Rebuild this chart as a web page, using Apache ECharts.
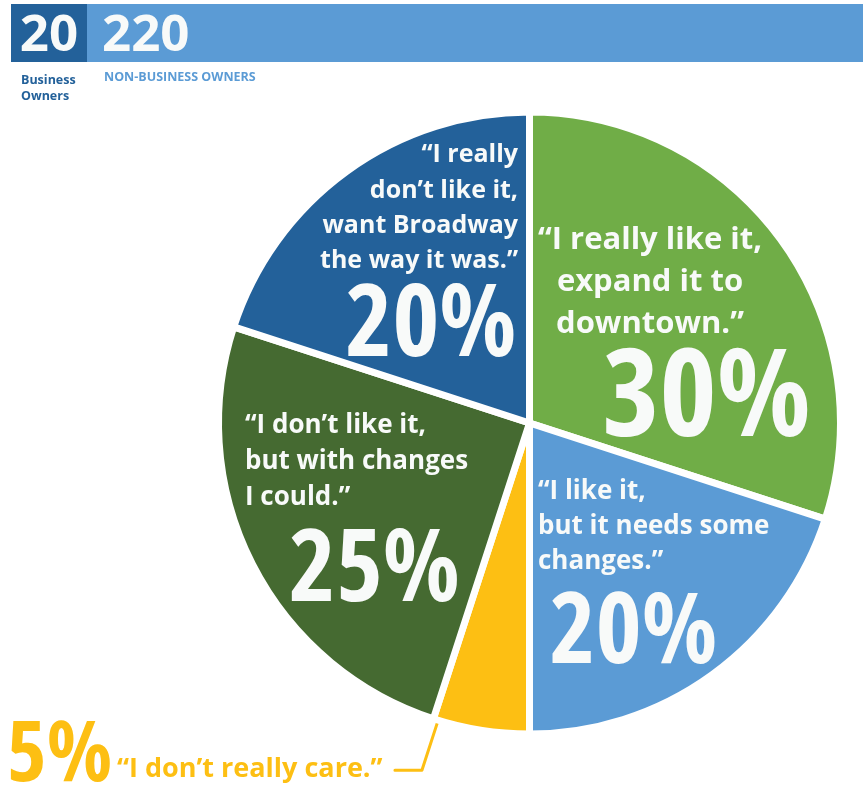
<!DOCTYPE html>
<html>
<head>
<meta charset="utf-8">
<script src="https://cdn.jsdelivr.net/npm/echarts@6/dist/echarts.min.js"></script>
<style>
  html, body { margin: 0; padding: 0; background: #ffffff; }
  #main { width: 863px; height: 787px; }
</style>
</head>
<body>
<div id="main"></div>
<script>
// Survey answers, clockwise from 12 o'clock
const answers = [
  '“I really like it,\nexpand it to\ndowntown.”',
  '“I like it,\nbut it needs some\nchanges.”',
  '“I don’t really care.”',
  '“I don’t like it,\nbut with changes\nI could.”',
  '“I really\ndon’t like it,\nwant Broadway\nthe way it was.”'
];
const shares = [30, 20, 5, 25, 20];
const sliceColors = ['#70AD47', '#5B9BD5', '#FDBF13', '#456A31', '#23619A'];

// Respondent counts shown in the header strip
const respondentCounts = [20, 220];
const respondentGroups = ['Business\nOwners', 'NON-BUSINESS OWNERS'];

// ---- geometry & styling ----
const CX = 529.5, CY = 423, R = 311, BORDER = 7;
const WHITE = '#F8FAF9';
const QUOTE_FONT = "'Open Sans', 'Noto Sans', sans-serif";
const BIG_FONT = "'Open Sans', 'Noto Sans', sans-serif";
const careIndex = 2; // the slice whose label sits outside the pie

// quote text blocks: anchor offset from the pie centre (top of first line)
const quoteLayout = [
  { dx: 120.5, dy: -204.3, align: 'center', size: 31, lh: 42 },
  { dx: 8.5, dy: 51.4, align: 'left', size: 26, lh: 35 },
  { dx: -412.5, dy: 331, align: 'left', size: 27, lh: 30 },
  { dx: -284.5, dy: -15, align: 'left', size: 26, lh: 36 },
  { dx: -11.5, dy: -285.4, align: 'right', size: 25, lh: 35.3 }
];
// percentage figures: centre of the figure, offset from the pie centre
const figureLayout = [
  { dx: 177, dy: -22, size: 122 },
  { dx: 104, dy: 212, size: 98 },
  { dx: -470, dy: 334, size: 85 },
  { dx: -155, dy: 150, size: 100 },
  { dx: -98.5, dy: -95, size: 100 }
];

// leader from the outer corner of the small slice, running along its edge
function leaderPoints() {
  const total = shares.reduce((a, b) => a + b, 0);
  let before = 0;
  for (let i = 0; i <= careIndex; i++) before += shares[i];
  const theta = before / total * Math.PI * 2; // clockwise from 12 o'clock
  const ux = Math.sin(theta), uy = -Math.cos(theta);
  const px = -Math.cos(theta), py = -Math.sin(theta); // towards the slice
  const inset = 5;
  const visibleR = R - BORDER / 2;
  const a = [CX + ux * (visibleR - 3) + px * inset, CY + uy * (visibleR - 3) + py * inset];
  const b = [CX + ux * (visibleR + 56) + px * inset, CY + uy * (visibleR + 56) + py * inset];
  const c = [b[0] - 27, b[1]];
  return [a, b, c];
}

const quoteData = answers.map((name, i) => ({
  name: name,
  value: shares[i],
  itemStyle: { color: sliceColors[i] },
  label: {
    position: i === careIndex ? 'outside' : 'inside',
    color: i === careIndex ? sliceColors[i] : WHITE,
    fontSize: quoteLayout[i].size,
    lineHeight: quoteLayout[i].lh
  },
  labelLine: {
    show: i === careIndex,
    lineStyle: { color: sliceColors[i], width: 3, cap: 'round', join: 'round' }
  }
}));

const figureData = answers.map((name, i) => ({
  name: name,
  value: shares[i],
  label: {
    color: i === careIndex ? sliceColors[i] : WHITE,
    fontSize: figureLayout[i].size
  }
}));

const chart = echarts.init(document.getElementById('main'), null, { renderer: 'canvas' });

const headerGraphics = [
  { type: 'rect', shape: { x: 11, y: 4, width: 76, height: 58 }, style: { fill: '#23619A' } },
  { type: 'rect', shape: { x: 87, y: 4, width: 776, height: 58 }, style: { fill: '#5B9BD5' } },
  {
    type: 'text', x: 49, y: 36,
    style: {
      text: String(respondentCounts[0]), fill: WHITE, font: "bold 51px 'Open Sans', sans-serif",
      textAlign: 'center', textVerticalAlign: 'middle'
    }
  },
  {
    type: 'text', x: 102, y: 36,
    style: {
      text: String(respondentCounts[1]), fill: WHITE, font: "bold 51px 'Open Sans', sans-serif",
      textAlign: 'left', textVerticalAlign: 'middle'
    }
  },
  {
    type: 'text', x: 21, y: 72,
    style: {
      text: respondentGroups[0], fill: '#23619A', font: "bold 12.5px 'Open Sans', sans-serif",
      lineHeight: 16, textAlign: 'left', textVerticalAlign: 'top'
    }
  },
  {
    type: 'text', x: 104, y: 71,
    style: {
      text: respondentGroups[1], fill: '#5B9BD5', font: "bold 12.5px 'Open Sans', sans-serif",
      textAlign: 'left', textVerticalAlign: 'top'
    }
  }
];

chart.setOption({
  animation: false,
  graphic: headerGraphics,
  series: [
    {
      // slices with the answer quotes
      type: 'pie',
      center: [CX, CY],
      radius: R,
      startAngle: 90,
      clockwise: true,
      avoidLabelOverlap: false,
      silent: true,
      itemStyle: { borderColor: '#ffffff', borderWidth: BORDER },
      label: {
        show: true,
        formatter: '{b}',
        fontFamily: QUOTE_FONT,
        fontWeight: 'bold'
      },
      emphasis: { disabled: true },
      labelLayout: function (p) {
        const q = quoteLayout[p.dataIndex];
        const out = { x: CX + q.dx, y: CY + q.dy, align: q.align, verticalAlign: 'top' };
        if (p.dataIndex === careIndex) out.labelLinePoints = leaderPoints();
        return out;
      },
      data: quoteData
    },
    {
      // percentage figures laid over the same slices
      type: 'pie',
      center: [CX, CY],
      radius: R,
      startAngle: 90,
      clockwise: true,
      avoidLabelOverlap: false,
      silent: true,
      itemStyle: { color: 'rgba(0,0,0,0)', borderWidth: 0 },
      label: {
        show: true,
        position: 'inside',
        formatter: '{c}%',
        fontFamily: BIG_FONT,
        fontWeight: 'bold condensed'
      },
      labelLine: { show: false },
      emphasis: { disabled: true },
      labelLayout: function (p) {
        const f = figureLayout[p.dataIndex];
        return { x: CX + f.dx, y: CY + f.dy, align: 'center', verticalAlign: 'middle' };
      },
      data: figureData
    }
  ]
});
</script>
</body>
</html>
